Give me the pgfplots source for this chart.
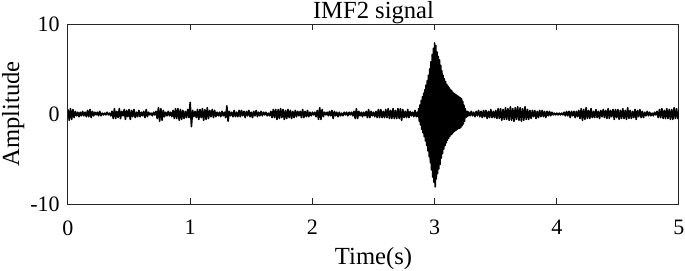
\documentclass[border=0pt]{standalone}
\usepackage{pgfplots}
\pgfplotsset{compat=1.18}
\usepackage{fontspec}
\setmainfont{Liberation Serif}
\begin{document}
\begin{tikzpicture}
\path[use as bounding box] (-34pt,-33pt) rectangle (308.5pt,102pt);
\begin{axis}[
  at={(0,0)}, anchor=south west,
  scale only axis, width=305.5pt, height=90pt,
  xmin=0, xmax=5, ymin=-10, ymax=10,
  xtick={0,1,2,3,4,5}, ytick={-10,0,10},
  tick align=inside, tick pos=both, major tick length=3pt,
  axis line style={black!85, line width=0.5pt},
  tick style={black!85, line width=0.5pt},
  /pgf/number format/assume math mode=true,
  ticklabel style={font=\fontsize{11}{13}\selectfont, inner sep=0pt},
  xticklabel style={anchor=north, yshift=-8pt},
  yticklabel style={anchor=east, xshift=-4pt},
  title={IMF2 signal},
  every axis title/.style={at={(axis description cs:0.5,1)}, anchor=base, yshift=2.85pt, font=\fontsize{12.3}{14}\selectfont, inner sep=0pt},
  xlabel={Time(s)},
  xlabel style={at={(axis description cs:0.5,-0.241)}, anchor=north, font=\fontsize{12.3}{14}\selectfont, inner sep=0pt},
  ylabel={Amplitude},
  ylabel style={at={(axis description cs:-0.0895,0.5)}, anchor=center, font=\fontsize{12.3}{14}\selectfont, inner sep=0pt},
]
\addplot[black, line width=0.8pt, line join=round] table[header=false, row sep=\\] {
0.00 0.5\\ 0.01 -0.7\\ 0.02 0.6\\ 0.03 -0.6\\ 0.04 0.5\\ 0.05 -0.4\\ 0.06 0.3\\ 0.07 -0.2\\ 0.08 0.2\\ 0.09 -0.3\\
0.10 0.2\\ 0.11 -0.2\\ 0.12 0.3\\ 0.13 -0.2\\ 0.14 0.2\\ 0.15 -0.3\\ 0.16 0.4\\ 0.17 -0.3\\ 0.18 0.5\\ 0.19 -0.4\\
0.20 0.3\\ 0.21 -0.2\\ 0.22 0.2\\ 0.23 -0.1\\ 0.24 0.2\\ 0.25 -0.2\\ 0.26 0.3\\ 0.27 -0.2\\ 0.28 0.1\\ 0.29 -0.1\\
0.30 0.1\\ 0.31 -0.1\\ 0.32 0.2\\ 0.33 -0.1\\ 0.34 0.1\\ 0.35 -0.2\\ 0.36 0.3\\ 0.37 -0.5\\ 0.38 0.6\\ 0.39 -0.5\\
0.40 0.3\\ 0.41 -0.4\\ 0.42 0.6\\ 0.43 -0.5\\ 0.44 0.3\\ 0.45 -0.2\\ 0.46 0.5\\ 0.47 -0.6\\ 0.48 0.4\\ 0.49 -0.3\\
0.50 0.5\\ 0.51 -0.6\\ 0.52 0.4\\ 0.53 -0.3\\ 0.54 0.5\\ 0.55 -0.4\\ 0.56 0.2\\ 0.57 -0.3\\ 0.58 0.4\\ 0.59 -0.3\\
0.60 0.2\\ 0.61 -0.2\\ 0.62 0.3\\ 0.63 -0.4\\ 0.64 0.5\\ 0.65 -0.3\\ 0.66 0.2\\ 0.67 -0.1\\ 0.68 0.1\\ 0.69 -0.2\\
0.70 0.2\\ 0.71 -0.1\\ 0.72 0.3\\ 0.73 -0.5\\ 0.74 0.7\\ 0.75 -0.8\\ 0.76 0.6\\ 0.77 -0.7\\ 0.78 0.4\\ 0.79 -0.3\\
0.80 0.2\\ 0.81 -0.2\\ 0.82 0.3\\ 0.83 -0.2\\ 0.84 0.2\\ 0.85 -0.3\\ 0.86 0.4\\ 0.87 -0.5\\ 0.88 0.6\\ 0.89 -0.5\\
0.90 0.6\\ 0.91 -0.7\\ 0.92 0.5\\ 0.93 -0.6\\ 0.94 0.4\\ 0.95 -0.5\\ 0.96 0.3\\ 0.97 -0.4\\ 0.98 0.5\\ 0.99 -0.4\\
1.00 1.3\\ 1.01 -1.4\\ 1.02 0.4\\ 1.03 -0.3\\ 1.04 0.3\\ 1.05 -0.4\\ 1.06 0.5\\ 1.07 -0.6\\ 1.08 0.5\\ 1.09 -0.4\\
1.10 0.6\\ 1.11 -0.7\\ 1.12 0.5\\ 1.13 -0.6\\ 1.14 0.7\\ 1.15 -0.5\\ 1.16 0.4\\ 1.17 -0.3\\ 1.18 0.5\\ 1.19 -0.4\\
1.20 0.4\\ 1.21 -0.3\\ 1.22 0.2\\ 1.23 -0.2\\ 1.24 0.2\\ 1.25 -0.3\\ 1.26 0.3\\ 1.27 -0.2\\ 1.28 0.2\\ 1.29 -0.4\\
1.30 0.9\\ 1.31 -0.8\\ 1.32 0.3\\ 1.33 -0.2\\ 1.34 0.2\\ 1.35 -0.3\\ 1.36 0.4\\ 1.37 -0.3\\ 1.38 0.2\\ 1.39 -0.3\\
1.40 0.4\\ 1.41 -0.3\\ 1.42 0.4\\ 1.43 -0.2\\ 1.44 0.3\\ 1.45 -0.4\\ 1.46 0.3\\ 1.47 -0.2\\ 1.48 0.4\\ 1.49 -0.3\\
1.50 0.2\\ 1.51 -0.4\\ 1.52 0.3\\ 1.53 -0.2\\ 1.54 0.4\\ 1.55 -0.3\\ 1.56 0.2\\ 1.57 -0.2\\ 1.58 0.3\\ 1.59 -0.2\\
1.60 0.2\\ 1.61 -0.1\\ 1.62 0.2\\ 1.63 -0.2\\ 1.64 0.1\\ 1.65 -0.2\\ 1.66 0.3\\ 1.67 -0.4\\ 1.68 0.5\\ 1.69 -0.4\\
1.70 0.5\\ 1.71 -0.6\\ 1.72 0.5\\ 1.73 -0.5\\ 1.74 0.6\\ 1.75 -0.4\\ 1.76 0.5\\ 1.77 -0.6\\ 1.78 0.4\\ 1.79 -0.5\\
1.80 0.5\\ 1.81 -0.4\\ 1.82 0.4\\ 1.83 -0.5\\ 1.84 0.3\\ 1.85 -0.4\\ 1.86 0.4\\ 1.87 -0.3\\ 1.88 0.3\\ 1.89 -0.2\\
1.90 0.3\\ 1.91 -0.4\\ 1.92 0.5\\ 1.93 -0.4\\ 1.94 0.3\\ 1.95 -0.3\\ 1.96 0.4\\ 1.97 -0.3\\ 1.98 0.2\\ 1.99 -0.2\\
2.00 0.2\\ 2.01 -0.1\\ 2.02 0.2\\ 2.03 -0.3\\ 2.04 0.4\\ 2.05 -0.6\\ 2.06 0.7\\ 2.07 -0.6\\ 2.08 0.5\\ 2.09 -0.3\\
2.10 0.2\\ 2.11 -0.1\\ 2.12 0.2\\ 2.13 -0.2\\ 2.14 0.3\\ 2.15 -0.2\\ 2.16 0.4\\ 2.17 -0.5\\ 2.18 0.3\\ 2.19 -0.2\\
2.20 0.2\\ 2.21 -0.3\\ 2.22 0.2\\ 2.23 -0.2\\ 2.24 0.1\\ 2.25 -0.2\\ 2.26 0.2\\ 2.27 -0.1\\ 2.28 0.2\\ 2.29 -0.2\\
2.30 0.2\\ 2.31 -0.1\\ 2.32 0.2\\ 2.33 -0.2\\ 2.34 0.3\\ 2.35 -0.5\\ 2.36 0.6\\ 2.37 -0.5\\ 2.38 0.3\\ 2.39 -0.2\\
2.40 0.2\\ 2.41 -0.3\\ 2.42 0.2\\ 2.43 -0.2\\ 2.44 0.3\\ 2.45 -0.4\\ 2.46 0.5\\ 2.47 -0.4\\ 2.48 0.3\\ 2.49 -0.2\\
2.50 0.2\\ 2.51 -0.3\\ 2.52 0.3\\ 2.53 -0.4\\ 2.54 0.5\\ 2.55 -0.4\\ 2.56 0.5\\ 2.57 -0.4\\ 2.58 0.3\\ 2.59 -0.4\\
2.60 0.5\\ 2.61 -0.4\\ 2.62 0.6\\ 2.63 -0.5\\ 2.64 0.4\\ 2.65 -0.5\\ 2.66 0.6\\ 2.67 -0.5\\ 2.68 0.4\\ 2.69 -0.5\\
2.70 0.6\\ 2.71 -0.5\\ 2.72 0.6\\ 2.73 -0.7\\ 2.74 0.5\\ 2.75 -0.4\\ 2.76 0.3\\ 2.77 -0.4\\ 2.78 0.5\\ 2.79 -0.4\\
2.80 0.3\\ 2.81 -0.2\\ 2.82 0.2\\ 2.83 -0.3\\ 2.84 0.4\\ 2.85 -0.3\\ 2.860 0.2\\ 2.865 -0.3\\
2.870 0.6\\ 2.875 -0.8\\ 2.880 1.0\\ 2.885 -1.2\\ 2.890 1.5\\ 2.895 -1.7\\ 2.900 1.9\\ 2.905 -2.1\\ 2.910 2.3\\ 2.915 -2.5\\
2.920 2.7\\ 2.925 -3.0\\ 2.930 3.2\\ 2.935 -3.5\\ 2.940 3.7\\ 2.945 -4.1\\ 2.950 4.3\\ 2.955 -4.7\\ 2.960 5.0\\ 2.965 -5.4\\
2.970 5.8\\ 2.975 -6.2\\ 2.980 6.6\\ 2.985 -7.0\\ 2.990 7.3\\ 2.995 -7.6\\ 3.000 7.9\\ 3.005 -8.1\\ 3.010 7.6\\ 3.015 -7.2\\
3.020 6.9\\ 3.025 -6.6\\ 3.030 6.4\\ 3.035 -6.1\\ 3.040 6.0\\ 3.045 -5.6\\ 3.050 5.4\\ 3.055 -4.9\\ 3.060 4.8\\ 3.065 -4.4\\
3.070 4.3\\ 3.075 -3.9\\ 3.080 3.9\\ 3.085 -3.5\\ 3.090 3.6\\ 3.095 -3.2\\ 3.100 3.3\\ 3.105 -2.9\\ 3.110 3.1\\ 3.115 -2.7\\
3.120 2.9\\ 3.125 -2.5\\ 3.130 2.7\\ 3.135 -2.3\\ 3.140 2.6\\ 3.145 -2.2\\ 3.150 2.4\\ 3.155 -2.0\\ 3.160 2.3\\ 3.165 -1.9\\
3.170 2.2\\ 3.175 -1.8\\ 3.180 2.1\\ 3.185 -1.7\\ 3.190 2.0\\ 3.195 -1.6\\ 3.200 1.9\\ 3.205 -1.6\\ 3.210 1.8\\ 3.215 -1.5\\
3.220 1.7\\ 3.225 -1.3\\ 3.230 1.4\\ 3.235 -1.1\\ 3.240 1.0\\ 3.245 -0.8\\ 3.250 0.6\\ 3.255 -0.4\\ 3.260 0.3\\ 3.265 -0.3\\
3.270 0.3\\ 3.275 -0.2\\ 3.28 0.2\\ 3.29 -0.2\\
3.30 0.3\\ 3.31 -0.2\\ 3.32 0.2\\ 3.33 -0.3\\ 3.34 0.3\\ 3.35 -0.2\\ 3.36 0.4\\ 3.37 -0.3\\ 3.38 0.3\\ 3.39 -0.4\\
3.40 0.4\\ 3.41 -0.3\\ 3.42 0.4\\ 3.43 -0.5\\ 3.44 0.3\\ 3.45 -0.4\\ 3.46 0.5\\ 3.47 -0.4\\ 3.48 0.3\\ 3.49 -0.4\\
3.50 0.4\\ 3.51 -0.5\\ 3.52 0.6\\ 3.53 -0.5\\ 3.54 0.6\\ 3.55 -0.7\\ 3.56 0.5\\ 3.57 -0.6\\ 3.58 0.7\\ 3.59 -0.6\\
3.60 0.6\\ 3.61 -0.7\\ 3.62 0.8\\ 3.63 -0.7\\ 3.64 0.6\\ 3.65 -0.8\\ 3.66 0.7\\ 3.67 -0.6\\ 3.68 0.8\\ 3.69 -0.7\\
3.70 0.7\\ 3.71 -0.8\\ 3.72 0.6\\ 3.73 -0.7\\ 3.74 0.8\\ 3.75 -0.6\\ 3.76 0.5\\ 3.77 -0.6\\ 3.78 0.4\\ 3.79 -0.5\\
3.80 0.4\\ 3.81 -0.3\\ 3.82 0.4\\ 3.83 -0.5\\ 3.84 0.3\\ 3.85 -0.4\\ 3.86 0.4\\ 3.87 -0.3\\ 3.88 0.4\\ 3.89 -0.3\\
3.90 0.3\\ 3.91 -0.4\\ 3.92 0.3\\ 3.93 -0.2\\ 3.94 0.3\\ 3.95 -0.2\\ 3.96 0.2\\ 3.97 -0.1\\ 3.98 0.1\\ 3.99 -0.1\\
4.00 0.1\\ 4.01 -0.1\\ 4.02 0.1\\ 4.03 -0.1\\ 4.04 0.1\\ 4.05 -0.1\\ 4.06 0.2\\ 4.07 -0.2\\ 4.08 0.3\\ 4.09 -0.2\\
4.10 0.3\\ 4.11 -0.4\\ 4.12 0.3\\ 4.13 -0.2\\ 4.14 0.3\\ 4.15 -0.4\\ 4.16 0.3\\ 4.17 -0.3\\ 4.18 0.4\\ 4.19 -0.5\\
4.20 0.6\\ 4.21 -0.7\\ 4.22 0.5\\ 4.23 -0.6\\ 4.24 0.7\\ 4.25 -0.5\\ 4.26 0.4\\ 4.27 -0.5\\ 4.28 0.6\\ 4.29 -0.4\\
4.30 0.3\\ 4.31 -0.4\\ 4.32 0.5\\ 4.33 -0.4\\ 4.34 0.3\\ 4.35 -0.5\\ 4.36 0.4\\ 4.37 -0.3\\ 4.38 0.5\\ 4.39 -0.4\\
4.40 0.4\\ 4.41 -0.5\\ 4.42 0.6\\ 4.43 -0.5\\ 4.44 0.4\\ 4.45 -0.3\\ 4.46 0.5\\ 4.47 -0.6\\ 4.48 0.5\\ 4.49 -0.4\\
4.50 0.5\\ 4.51 -0.6\\ 4.52 0.4\\ 4.53 -0.5\\ 4.54 0.6\\ 4.55 -0.5\\ 4.56 0.4\\ 4.57 -0.6\\ 4.58 0.7\\ 4.59 -0.5\\
4.60 0.4\\ 4.61 -0.5\\ 4.62 0.3\\ 4.63 -0.4\\ 4.64 0.5\\ 4.65 -0.6\\ 4.66 0.4\\ 4.67 -0.3\\ 4.68 0.5\\ 4.69 -0.4\\
4.70 0.3\\ 4.71 -0.4\\ 4.72 0.2\\ 4.73 -0.2\\ 4.74 0.3\\ 4.75 -0.2\\ 4.76 0.2\\ 4.77 -0.2\\ 4.78 0.1\\ 4.79 -0.2\\
4.80 0.2\\ 4.81 -0.1\\ 4.82 0.3\\ 4.83 -0.4\\ 4.84 0.5\\ 4.85 -0.4\\ 4.86 0.6\\ 4.87 -0.5\\ 4.88 0.4\\ 4.89 -0.5\\
4.90 0.6\\ 4.91 -0.5\\ 4.92 0.5\\ 4.93 -0.6\\ 4.94 0.5\\ 4.95 -0.6\\ 4.96 0.7\\ 4.97 -0.5\\ 4.98 0.6\\ 4.99 -0.5\\
5.00 0.4\\
};
\end{axis}
\end{tikzpicture}
\end{document}
